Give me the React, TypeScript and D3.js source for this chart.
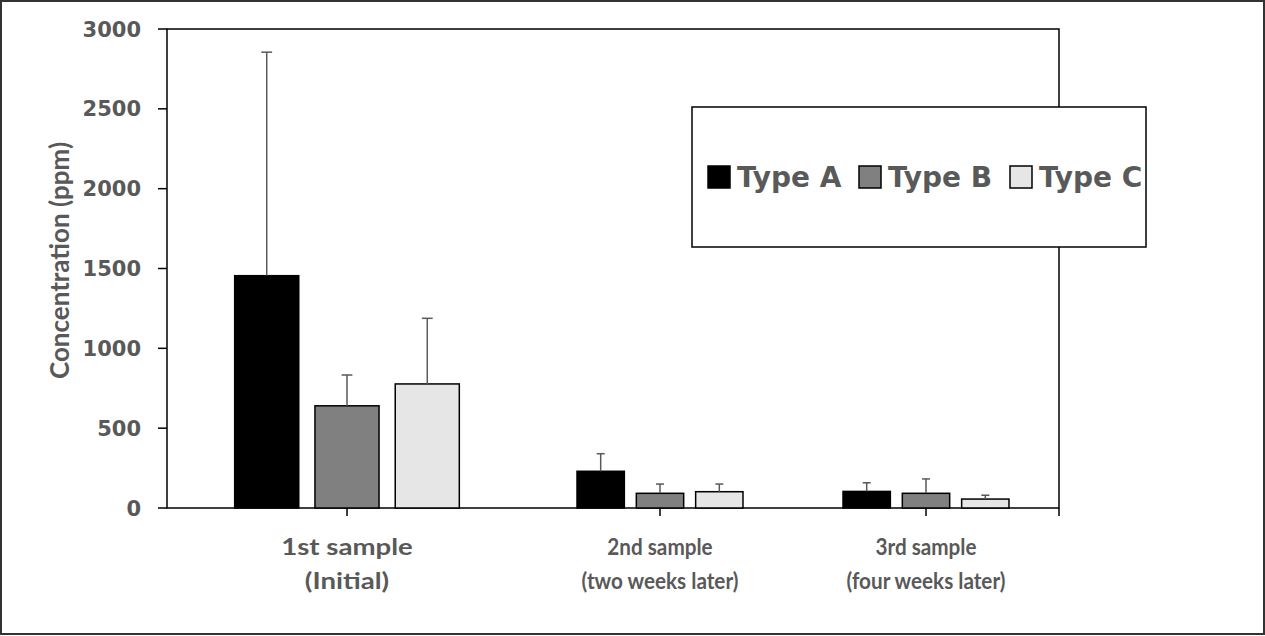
import React from 'react';
import * as d3 from 'd3';

// ---- data ----
const categories: string[][] = [
  ['1st sample', '(Initial)'],
  ['2nd sample', '(two weeks later)'],
  ['3rd sample', '(four weeks later)'],
];
const seriesNames = ['Type A', 'Type B', 'Type C'];
const typeA = [1455, 230, 104];
const typeAErr = [1400, 110, 54];
const typeB = [640, 92, 92];
const typeBErr = [193, 58, 90];
const typeC = [777, 102, 56];
const typeCErr = [411, 48, 24];
const yTicks = [0, 500, 1000, 1500, 2000, 2500, 3000];

// ---- styles / layout ----
const seriesFill = ['#000000', '#808080', '#e6e6e6'];
const W = 1265;
const H = 636;
const M = { left: 167, top: 29, right: 1059, bottom: 508 };
const textColor = '#595959';
const barFrac = 0.178;
const gapFrac = 0.045;
const capFrac = 0.03;
const labelStretch = [1.2, 0.9, 0.9];

export default function App() {
  const values = [typeA, typeB, typeC];
  const errs = [typeAErr, typeBErr, typeCErr];

  const y = d3.scaleLinear().domain([0, 3000]).range([M.bottom, M.top]);
  // category units: band i spans [i, i+1]; left band is drawn wider as in the source picture
  const x = d3.scaleLinear().domain([0, 1, 3]).range([M.left, 527, M.right]);

  const barStart = (i: number, k: number) =>
    i + 0.5 - 1.5 * barFrac - gapFrac + k * (barFrac + gapFrac);

  const bars: React.ReactNode[] = [];
  const errBars: React.ReactNode[] = [];
  categories.forEach((_, i) => {
    values.forEach((vals, k) => {
      const s = barStart(i, k);
      const x0 = x(s);
      const x1 = x(s + barFrac);
      const v = vals[i];
      bars.push(
        <rect
          key={`b${i}${k}`}
          x={x0}
          y={y(v)}
          width={x1 - x0}
          height={y(0) - y(v)}
          fill={seriesFill[k]}
          stroke="#000"
          strokeWidth={1.5}
        />
      );
      const cx = x(s + barFrac / 2);
      const top = y(v + errs[k][i]);
      const hw = (x(s + barFrac / 2 + capFrac / 2) - x(s + barFrac / 2 - capFrac / 2)) / 2;
      errBars.push(
        <g key={`e${i}${k}`} stroke={textColor} strokeWidth={1.5}>
          <line x1={cx} x2={cx} y1={y(v)} y2={top} />
          <line x1={cx - hw} x2={cx + hw} y1={top} y2={top} />
        </g>
      );
    });
  });

  return (
    <svg
      width={W}
      height={H}
      style={{ position: 'absolute', left: 0, top: 0, background: '#fff' }}
    >
      <rect x={0} y={0} width={W} height={H} fill="#fff" />
      <rect x={1} y={1} width={W - 2} height={H - 3} fill="none" stroke="#333" strokeWidth={2} />

      {/* plot frame */}
      <rect
        x={M.left}
        y={M.top}
        width={M.right - M.left}
        height={M.bottom - M.top}
        fill="none"
        stroke="#000"
        strokeWidth={1.5}
      />

      {/* y ticks */}
      {yTicks.map((t) => (
        <g key={t}>
          <line x1={M.left - 9} x2={M.left} y1={y(t)} y2={y(t)} stroke="#000" strokeWidth={1.5} />
          <text
            x={141}
            y={y(t)}
            dy="0.36em"
            textAnchor="end"
            fontFamily="DejaVu Sans"
            fontWeight="bold"
            fontSize={21}
            fill={textColor}
          >
            {t}
          </text>
        </g>
      ))}

      {/* x ticks */}
      {categories.map((_, i) => (
        <line
          key={`xt${i}`}
          x1={x(i + 0.5)}
          x2={x(i + 0.5)}
          y1={M.bottom}
          y2={M.bottom + 8}
          stroke="#000"
          strokeWidth={1.5}
        />
      ))}
      <line x1={M.right} x2={M.right} y1={M.bottom} y2={M.bottom + 8} stroke="#000" strokeWidth={1.5} />

      {bars}
      {errBars}

      {/* x labels */}
      {categories.map((lines, i) => (
        <g key={`xl${i}`} transform={`translate(${x(i + 0.5)}, 0) scale(${labelStretch[i]}, 1)`}>
          <text
            textAnchor="middle"
            fontFamily="Lato"
            fontWeight="bold"
            fontSize={23}
            fill={textColor}
          >
            {lines.map((l, j) => (
              <tspan key={j} x={0} y={555 + j * 34}>
                {l}
              </tspan>
            ))}
          </text>
        </g>
      ))}

      {/* y title */}
      <text
        transform={`translate(69, ${(M.top + M.bottom) / 2 - 8}) rotate(-90)`}
        textAnchor="middle"
        fontFamily="Lato"
        fontWeight="bold"
        fontSize={26}
        fill={textColor}
      >
        Concentration (ppm)
      </text>

      {/* legend */}
      <rect x={692} y={107} width={454} height={140} fill="#fff" stroke="#000" strokeWidth={1.5} />
      {seriesNames.map((n, k) => (
        <g key={n} transform={`translate(${708 + k * 151}, 177)`}>
          <rect x={0} y={-11} width={22} height={22} fill={seriesFill[k]} stroke="#000" strokeWidth={1.5} />
          <text
            x={29}
            y={10}
            fontFamily="DejaVu Sans"
            fontWeight="bold"
            fontSize={28}
            fill={textColor}
          >
            {n}
          </text>
        </g>
      ))}
    </svg>
  );
}
